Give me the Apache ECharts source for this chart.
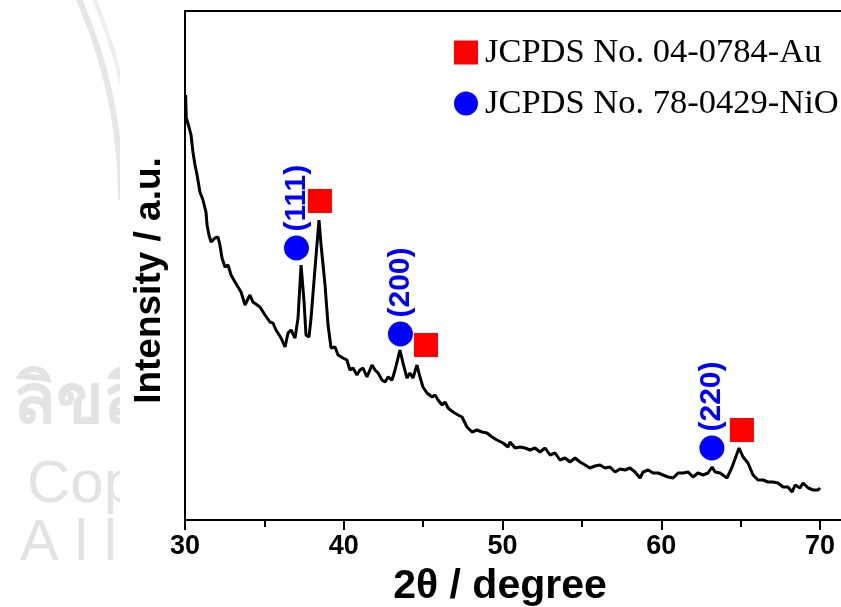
<!DOCTYPE html>
<html>
<head>
<meta charset="utf-8">
<script src="https://cdn.jsdelivr.net/npm/echarts@6/dist/echarts.min.js"></script>
<style>html,body{margin:0;padding:0;background:#fff}#c{width:841px;height:607px}</style>
</head>
<body>
<div id="c"></div>
<script>
// XRD pattern, 2θ (degree)
const twoTheta = [30.04,30.08,30.25,30.38,30.50,30.63,30.76,30.94,31.13,31.32,31.39,31.51,31.64,31.89,32.08,32.20,32.33,32.52,32.71,32.90,33.15,33.34,33.53,33.78,34.09,34.28,34.72,35.04,35.35,35.54,35.73,36.05,36.30,36.49,36.68,36.93,37.12,37.31,37.50,37.62,37.81,37.94,38.19,38.44,38.57,38.82,39.01,39.20,39.45,39.64,39.95,
40.20,40.39,40.58,40.83,41.02,41.21,41.46,41.78,41.97,42.16,42.41,42.60,42.79,43.04,43.23,43.54,43.73,43.98,44.17,44.36,44.61,44.80,44.99,45.24,45.56,45.75,45.94,46.19,46.38,46.57,46.88,47.20,47.45,47.76,48.08,48.39,48.71,49.02,49.34,49.65,50.03,50.35,
50.47,50.79,51.10,51.42,51.73,52.05,52.36,52.68,52.99,53.31,53.62,53.94,54.25,54.57,54.88,55.20,55.51,55.83,56.14,56.46,56.77,57.09,57.40,57.72,58.03,58.35,58.66,58.85,59.17,59.48,59.80,60.11,60.43,
60.74,61.06,61.37,61.69,62.00,62.31,62.63,62.94,63.20,63.39,63.70,64.14,64.46,64.90,65.15,65.46,65.78,66.09,66.41,66.72,67.04,67.35,67.67,67.98,68.24,68.43,68.74,68.93,69.26,69.56,69.87,70.00];
const intensity = [425,402,393,385,368,355,345,328,320,308,295,285,278,282,283,275,262,253,255,245,238,233,228,215,225,218,213,205,198,197,190,182,173,187,190,182,202,255,218,185,183,202,252,300,275,235,195,172,173,165,162,
160,150,152,145,150,152,143,155,150,147,140,138,143,140,150,170,157,142,147,142,155,143,133,127,123,125,120,115,118,112,108,105,103,93,88,90,88,87,83,80,77,73,
78,72,73,72,70,72,68,72,65,67,60,62,58,62,58,55,52,54,55,52,53,48,51,50,52,48,42,48,50,47,47,45,43,
42,47,47,48,43,47,45,47,53,48,47,42,53,72,63,57,45,40,40,38,38,37,33,33,28,35,32,37,32,30,30,32];

// Reference markers
const auName = 'JCPDS No. 04-0784-Au';
const nioName = 'JCPDS No. 78-0429-NiO';
const auX = [38.5, 45.18, 65.08];
const auY = [319, 175, 90];
const nioX = [37.02, 43.57, 63.19];
const nioY = [272, 186, 72];
const nioHkl = ['(111)', '(200)', '(220)'];
const xTicks = [30, 40, 50, 60, 70];
const xMinorTicks = [35, 45, 55, 65];

const chart = echarts.init(document.getElementById('c'), null, {renderer: 'canvas'});
const sans = 'Liberation Sans, Arial, sans-serif';
const serif = 'Liberation Serif, Times New Roman, serif';
const xMin = 30, xMax = 71.95;

chart.setOption({
  animation: false,
  backgroundColor: '#fff',
  graphic: [
    {type: 'arc', z: -20, shape: {cx: -380, cy: 200, r: 501, startAngle: -0.6, endAngle: 0}, style: {stroke: '#e6e6e6', lineWidth: 6, fill: null}},
    {type: 'arc', z: -20, shape: {cx: -380, cy: 200, r: 515, startAngle: -0.6, endAngle: 0}, style: {stroke: '#eeeeee', lineWidth: 4, fill: null}},
    {type: 'text', z: -20, left: 13, top: 368, style: {text: 'ลิขสิทธิ์', fill: '#e3e3e3', font: 'bold 70px "Noto Sans", "DejaVu Sans", sans-serif'}},
    {type: 'text', z: -20, left: 27, top: 455, style: {text: 'Copyright', fill: '#e3e3e3', font: '60px "Liberation Sans", Arial, sans-serif'}},
    {type: 'text', z: -20, left: 20, top: 515, style: {text: 'A l l', fill: '#e3e3e3', font: '58px "Liberation Sans", Arial, sans-serif'}},
    {type: 'rect', z: -10, shape: {x: 120, y: 0, width: 721, height: 607}, style: {fill: '#fff', stroke: null}}
  ],
  legend: {
    orient: 'vertical',
    left: 449,
    top: 30,
    itemWidth: 24,
    itemHeight: 24,
    itemGap: 16,
    data: [{name: auName, icon: 'rect'}, {name: nioName, icon: 'circle'}],
    textStyle: {fontFamily: serif, fontSize: 34.5, color: '#000', padding: [0, 0, 0, 2]}
  },
  grid: {left: 185, top: 11, bottom: 87, right: -10, show: false, outerBoundsMode: 'none', containLabel: false},
  xAxis: [{
    type: 'value', min: xMin, max: xMax, interval: 10,
    name: '2θ / degree', nameLocation: 'middle', nameGap: 46,
    nameTextStyle: {fontFamily: sans, fontWeight: 'bold', fontSize: 41, color: '#000', padding: [0, 36, 0, 0]},
    axisLine: {show: true, onZero: false, lineStyle: {color: '#000', width: 2}},
    axisTick: {show: true, inside: false, length: 10, customValues: xTicks, lineStyle: {color: '#000', width: 2}},
    minorTick: {show: false},
    splitLine: {show: false},
    axisLabel: {margin: 13, customValues: xTicks, fontFamily: sans, fontWeight: 'bold', fontSize: 27, color: '#000',
      formatter: v => xTicks.indexOf(v) >= 0 ? String(v) : ''}
  }, {
    type: 'value', min: xMin, max: xMax, position: 'top',
    axisLine: {show: true, onZero: false, lineStyle: {color: '#000', width: 2}},
    axisTick: {show: false}, axisLabel: {show: false}, splitLine: {show: false}
  }, {
    type: 'value', min: xMin, max: xMax, position: 'bottom', offset: 0,
    axisLine: {show: false, onZero: false},
    axisTick: {show: true, inside: false, length: 7, customValues: xMinorTicks, lineStyle: {color: '#000', width: 2}},
    axisLabel: {show: false}, splitLine: {show: false}
  }],
  yAxis: {
    type: 'value', min: 0, max: 509,
    name: 'Intensity / a.u.', nameLocation: 'middle', nameRotate: 90, nameGap: 17,
    nameTextStyle: {fontFamily: sans, fontWeight: 'bold', fontSize: 37, color: '#000', padding: [0, 30, 0, 0]},
    axisLine: {show: true, lineStyle: {color: '#000', width: 2}},
    axisTick: {show: false},
    axisLabel: {show: false},
    splitLine: {show: false}
  },
  series: [
    {
      name: 'XRD', type: 'line', silent: true, symbol: 'none',
      lineStyle: {color: '#000', width: 3},
      data: twoTheta.map((x, i) => [x, intensity[i]]),
      z: 3
    },
    {
      name: auName, type: 'scatter', symbol: 'rect', symbolSize: 24,
      itemStyle: {color: '#ff0000', opacity: 1},
      data: auX.map((x, i) => [x, auY[i]]),
      z: 4
    },
    {
      name: nioName, type: 'scatter', symbol: 'circle', symbolSize: 25,
      itemStyle: {color: '#0000ff', opacity: 1},
      data: nioX.map((x, i) => ({name: nioHkl[i], value: [x, nioY[i]]})),
      label: {
        show: true, formatter: '{b}', position: 'top', distance: 4, rotate: 90,
        align: 'left', verticalAlign: 'middle',
        fontFamily: sans, fontWeight: 'bold', fontSize: 30, color: '#0000ff'
      },
      z: 4
    }
  ]
});
</script>
</body>
</html>
